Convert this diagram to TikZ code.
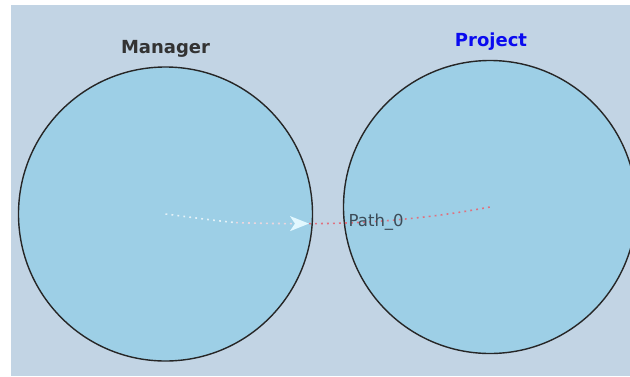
\documentclass[tikz,border=0pt]{standalone}
\usepackage{fontspec}
\setmainfont{DejaVu Sans}
\usetikzlibrary{arrows.meta}
\definecolor{bgc}{HTML}{C2D4E4}
\definecolor{circfill}{HTML}{9DCFE6}
\definecolor{mgrtext}{HTML}{333333}
\definecolor{projtext}{HTML}{0A0AF0}
\definecolor{pathtext}{HTML}{3C4C58}
\definecolor{dotstart}{HTML}{E4F2F8}
\definecolor{dotmid}{HTML}{EAD6DE}
\definecolor{dotend}{HTML}{E0707E}
\definecolor{arrowfill}{HTML}{E2F8FF}
\tikzset{
  entity/.style={circle, draw=black!85, line width=1.4pt, fill=circfill, inner sep=0pt, minimum size=#1},
  title/.style={font=\fontsize{18}{20}\selectfont\bfseries, inner sep=0pt, anchor=base},
  dotline/.style={line width=1.6pt, dash pattern=on 1.8pt off 4.2pt},
}
\begin{document}
\begin{tikzpicture}[x=1pt,y=-1pt]
\useasboundingbox (0,0) rectangle (630,376);
\fill[white] (0,0) rectangle (630,376);
\fill[bgc] (11,5) rectangle (630,376);
\node[entity=294pt] (mgr) at (165.5,214) {};
\node[entity=293pt] (proj) at (490,207) {};
\node[title, text=mgrtext] (mgrlabel) at (165.5,53) {Manager};
\node[title, text=projtext] (projlabel) at (491,46) {Project};
\coordinate (split) at (309,223.6);
\draw[dotline, dotstart] (mgr.center) .. controls (186,216.5) and (215,220.8) .. (236,222.6);
\draw[dotline, dotmid, -{Stealth[length=19pt,width=15pt,inset=5pt,fill=arrowfill,color=arrowfill]}] (236,222.6) .. controls (260,223.5) and (285,223.6) .. (split);
\draw[dotline, dotend] (split) .. controls (365.98,223.75) and (429.5,218.55) .. (proj.center);
\node[font=\fontsize{16.5}{18}\selectfont, text=pathtext, inner sep=0pt, anchor=base west] (pathlabel) at (348.5,226) {Path\_0};
\end{tikzpicture}
\end{document}
